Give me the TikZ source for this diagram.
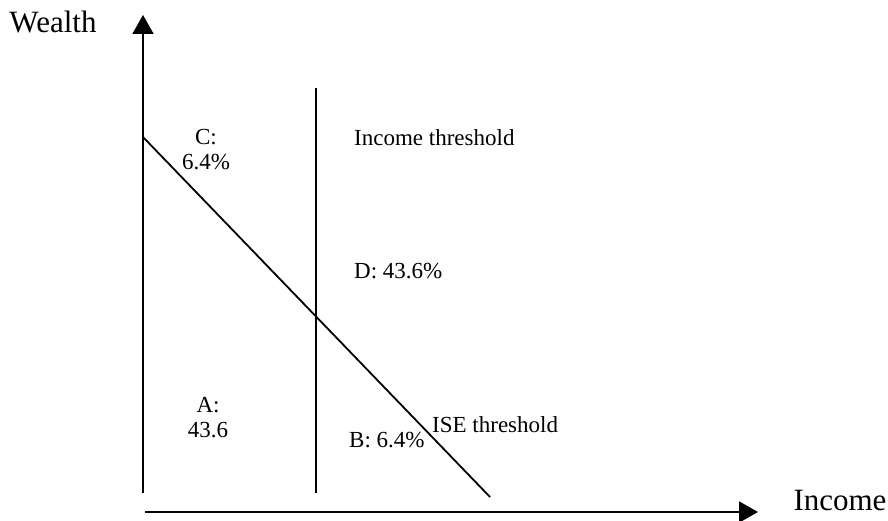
\documentclass[tikz,border=0pt]{standalone}
\usepackage{fontspec}
\setmainfont{Liberation Serif}
\usetikzlibrary{arrows.meta, positioning}

\begin{document}
\begin{tikzpicture}[
    x=1pt, y=-1pt,
    axis/.style={line width=1.9pt, -{Triangle[length=19pt, width=21pt]}},
    border/.style={line width=1.8pt},
    axlabel/.style={font=\fontsize{31}{34}\selectfont, inner sep=0pt},
    region/.style={font=\fontsize{23}{25}\selectfont, align=center, inner sep=0pt},
    thr/.style={font=\fontsize{23}{25}\selectfont, inner sep=0pt}
]
\useasboundingbox (0,0) rectangle (888,521);

% === Axes ===
\coordinate (origin) at (143,493);
\coordinate (ytop) at (143,15);
\coordinate (xstart) at (145,512);
\coordinate (xend) at (758,512);
\draw[axis] (origin) -- (ytop);
\draw[axis] (xstart) -- (xend);
\node[axlabel] (wealth) at (53,22) {Wealth};
\node[axlabel] (income) at (840,500) {Income};

% === Thresholds ===
\coordinate (inctop) at (316,88);
\coordinate (incbot) at (316,493);
\draw[border] (inctop) -- (incbot);
\node[thr, anchor=west] (inclab) at (354,138) {Income threshold};

\coordinate (isetop) at (143,137);
\coordinate (isebot) at (490,497);
\draw[border] (isetop) -- (isebot);
\node[thr, anchor=west] (iselab) at (432,425) {ISE threshold};

% === Regions ===
\node[region] (regC) at (206,150) {C:\\6.4\%};
\node[region, anchor=west] (regD) at (354,271) {D: 43.6\%};
\node[region] (regA) at (208,418) {A:\\43.6};
\node[region, anchor=west] (regB) at (349,440) {B: 6.4\%};
\end{tikzpicture}
\end{document}
